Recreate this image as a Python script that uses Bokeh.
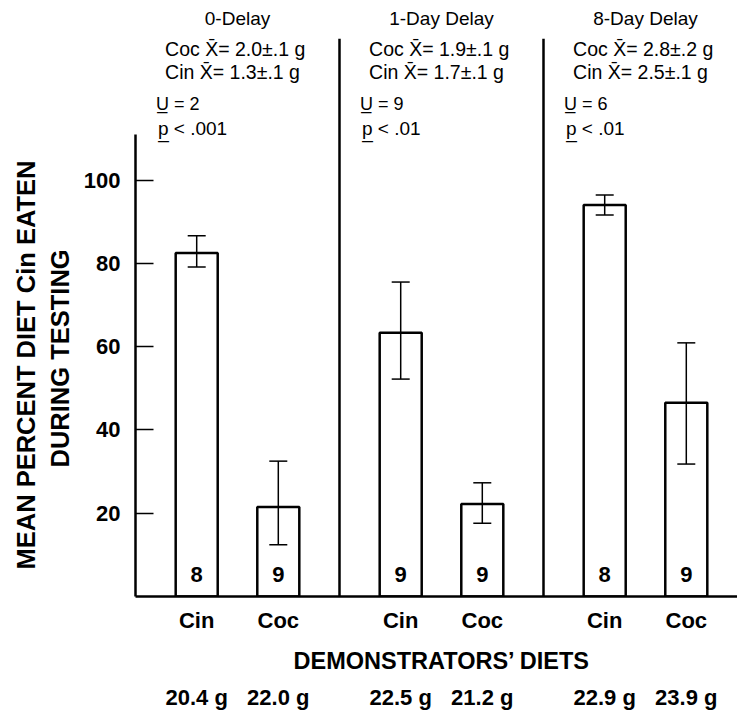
from bokeh.plotting import figure
from bokeh.models import Range1d, LinearAxis, FixedTicker, Whisker, TeeHead, ColumnDataSource, Title
from bokeh.core.properties import value
from bokeh.embed import file_html
from bokeh.resources import INLINE

# ---------------- data ----------------
delays = ["0-Delay", "1-Day Delay", "8-Day Delay"]
diets = ["Cin", "Coc"]
mean_pct = [82.5, 21.5, 63.3, 22.2, 94.0, 46.5]
err_upper = [86.6, 32.5, 75.5, 27.3, 96.4, 60.9]
err_lower = [79.1, 12.4, 52.2, 17.6, 91.6, 31.8]
n_subjects = [8, 9, 9, 9, 8, 9]
demo_weights = ["20.4 g", "22.0 g", "22.5 g", "21.2 g", "22.9 g", "23.9 g"]
coc_intake = ["2.0\u00b1.1", "1.9\u00b1.1", "2.8\u00b1.2"]
cin_intake = ["1.3\u00b1.1", "1.7\u00b1.1", "2.5\u00b1.1"]
u_values = [2, 9, 6]
p_values = ["< .001", "< .01", "< .01"]
y_ticks = [20, 40, 60, 80, 100]
y_title = ["MEAN PERCENT DIET Cin EATEN", "DURING TESTING"]
x_title = "DEMONSTRATORS\u2019 DIETS"

FONT = "Liberation Sans"

# positions derived from group / diet indices
offset = 0.2
xpos = []
bar_diet = []
for gi, _ in enumerate(delays):
    for di, d in enumerate(diets):
        xpos.append(gi + (-offset if di == 0 else offset))
        bar_diet.append(d)
gx = list(range(len(delays)))

src = ColumnDataSource(dict(x=xpos, top=mean_pct, upper=err_upper, lower=err_lower,
                            n=[str(v) for v in n_subjects]))

p = figure(width=737, height=714, x_range=Range1d(-0.5, 2.451), y_range=Range1d(0, 143.1),
           output_backend="svg", toolbar_location=None,
           min_border_left=135, min_border_right=0, min_border_top=0, min_border_bottom=118)
p.grid.visible = False
p.outline_line_color = None
p.background_fill_color = "white"
p.border_fill_color = "white"

# bars
p.vbar(x="x", top="top", bottom=0, width=0.206, source=src,
       fill_color="white", line_color="black", line_width=2.5)

# error bars
p.add_layout(Whisker(source=src, base="x", upper="upper", lower="lower",
                     line_color="black", line_width=1.5, level="overlay",
                     upper_head=TeeHead(size=18, line_width=1.5, line_color="black"),
                     lower_head=TeeHead(size=18, line_width=1.5, line_color="black")))

# n inside bars
p.text(x="x", y=5.2, text="n", source=src, text_align="center", text_baseline="middle",
       text_font=value(FONT), text_font_size="22px", text_font_style="bold", text_color="black")

# group dividers
div_x = [(a + b) / 2 for a, b in zip(gx[:-1], gx[1:])]
p.segment(x0=div_x, y0=[0] * len(div_x), x1=div_x, y1=[133.9] * len(div_x),
          line_color="black", line_width=2.5)

# annotations above groups
p.text(x=gx, y=[138.7] * 3, text=delays, text_align="center", text_baseline="middle",
       text_font=value(FONT), text_font_size="19px", text_color="black")
p.text(x=[g - 0.355 for g in gx], y=[131.4] * 3,
       text=["Coc X\u0304= %s g" % s for s in coc_intake], text_align="left",
       text_baseline="middle", text_font=value(FONT), text_font_size="19.5px", text_color="black")
p.text(x=[g - 0.355 for g in gx], y=[125.9] * 3,
       text=["Cin X\u0304= %s g" % s for s in cin_intake], text_align="left",
       text_baseline="middle", text_font=value(FONT), text_font_size="19.5px", text_color="black")
p.text(x=[g - 0.4 for g in gx], y=[118.2] * 3,
       text=["U\u0332 = %d" % u for u in u_values], text_align="left",
       text_baseline="middle", text_font=value(FONT), text_font_size="18px", text_color="black")
p.text(x=[g - 0.39 for g in gx], y=[112.3] * 3,
       text=["p\u0332 %s" % s for s in p_values], text_align="left",
       text_baseline="middle", text_font=value(FONT), text_font_size="19px", text_color="black")

# x axis (diet labels)
xa = p.xaxis[0]
xa.ticker = FixedTicker(ticks=xpos)
xa.major_label_overrides = {x: d for x, d in zip(xpos, bar_diet)}
xa.major_tick_line_color = None
xa.minor_tick_line_color = None
xa.axis_line_width = 2.5
xa.major_label_text_font = FONT
xa.major_label_text_font_size = "22px"
xa.major_label_text_font_style = "bold"
xa.major_label_text_color = "black"
xa.major_label_standoff = 5

# x title between diet labels and demonstrator weights
p.add_layout(Title(text=x_title, align="left", offset=158, standoff=20,
                   text_font=FONT, text_font_size="23.5px", text_font_style="bold",
                   text_color="black"), "below")

xb = LinearAxis(ticker=FixedTicker(ticks=xpos),
                major_label_overrides={x: w for x, w in zip(xpos, demo_weights)},
                axis_line_color=None, major_tick_line_color=None, minor_tick_line_color=None,
                major_label_text_font=FONT, major_label_text_font_size="22px",
                major_label_text_font_style="bold", major_label_text_color="black",
                major_label_standoff=-5)
p.add_layout(xb, "below")

# y axis
ya = p.yaxis[0]
ya.ticker = FixedTicker(ticks=y_ticks)
ya.bounds = (0, 111)
ya.axis_line_width = 2.5
ya.major_tick_in = 18
ya.major_tick_out = 0
ya.major_tick_line_width = 1.5
ya.minor_tick_line_color = None
ya.major_label_text_font = FONT
ya.major_label_text_font_size = "22px"
ya.major_label_text_font_style = "bold"
ya.major_label_text_color = "black"
ya.major_label_standoff = 15

# two-line y title (inner line first), started near the bottom of the drawn axis
for txt, off, so in zip(reversed(y_title), [129, 27], [14, -7]):
    p.add_layout(Title(text=txt, align="left", offset=off, standoff=so,
                       text_font=FONT, text_font_size="25.5px", text_font_style="bold",
                       text_color="black"), "left")

open("out.html", "w").write(file_html(p, INLINE))
